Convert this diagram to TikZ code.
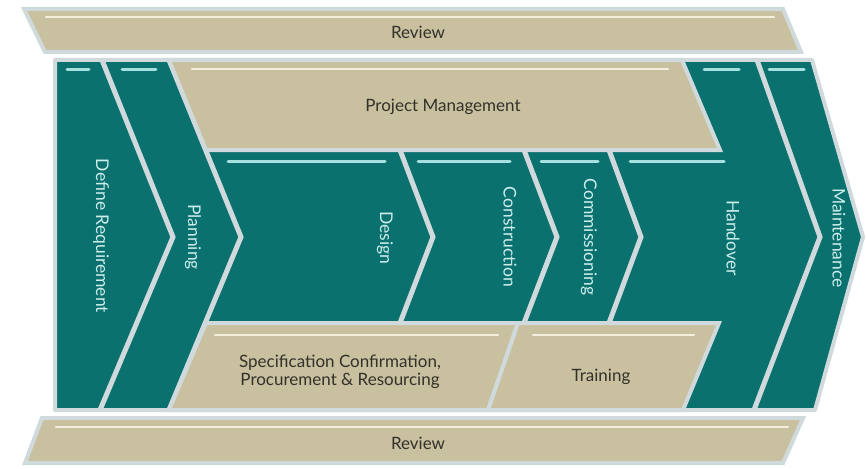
\documentclass[tikz,border=0pt]{standalone}
\usepackage{fontspec}
\setmainfont{Lato}
\definecolor{tealc}{HTML}{0A716F}
\definecolor{tanc}{HTML}{C8C09F}
\definecolor{gapc}{HTML}{D0DADD}
\definecolor{creamc}{HTML}{F4EFDD}
\definecolor{cyanc}{HTML}{A6E0E0}
\definecolor{darktxt}{HTML}{33312A}
\definecolor{lighttxt}{HTML}{CBEDEC}
\begin{document}
\begin{tikzpicture}[x=1pt,y=-1pt,
  gapline/.style={draw=gapc, line width=5pt, line join=miter},
  tanbox/.style={fill=tanc, draw=gapc, line width=4pt, line join=miter},
  creamline/.style={draw=creamc, line width=2.5pt, line cap=round},
  cyanline/.style={draw=cyanc, line width=3pt, line cap=round},
  tantext/.style={text=darktxt, font=\fontsize{17}{18}\selectfont, align=center, inner sep=0pt},
  colltext/.style={text=lighttxt, font=\fontsize{17.5}{19}\selectfont, rotate=-90, inner sep=0pt}]
\useasboundingbox (0,0) rectangle (866,468);
\fill[white] (0,0) rectangle (866,468);

% teal body
\path[fill=tealc, draw=gapc, line width=4pt, line join=round]
  (55,60) -- (812,60) -- (863,237) -- (815,410) -- (55,410) -- cycle;

% gap lines between columns
\draw[gapline] (102,60) -- (173,237) -- (100,410);
\draw[gapline] (169,60) -- (241,237) -- (169,410);
\draw[gapline] (400,150) -- (433,237) -- (400,323);
\draw[gapline] (524,150) -- (557,237) -- (524,323);
\draw[gapline] (609,150) -- (641,237) -- (609,323);
\draw[gapline] (757,60) -- (820,237) -- (754,410);

% tan boxes
\path[tanbox] (169,60) -- (682,60) -- (720,150) -- (206,150) -- cycle;
\path[tanbox] (206,323) -- (518,323) -- (488,410) -- (169,410) -- cycle;
\path[tanbox] (518,323) -- (719,323) -- (683,410) -- (488,410) -- cycle;
\path[tanbox] (24,9) -- (783,9) -- (801,52) -- (45,52) -- cycle;
\path[tanbox] (42,418) -- (803,418) -- (783,463) -- (25,463) -- cycle;

% cream highlights
\draw[creamline] (46,17) -- (774,17);
\draw[creamline] (192,69) -- (668,69);
\draw[creamline] (215,335) -- (498,335);
\draw[creamline] (533,335) -- (694,335);
\draw[creamline] (56,427) -- (788,427);

% cyan highlights
\draw[cyanline] (67,70) -- (89,70);
\draw[cyanline] (122,70) -- (156,70);
\draw[cyanline] (704,70) -- (739,70);
\draw[cyanline] (769,70) -- (804,70);
\draw[cyanline] (228,161) -- (385,161);
\draw[cyanline] (418,161) -- (510,161);
\draw[cyanline] (541,161) -- (598,161);
\draw[cyanline] (630,161) -- (724,161);

% texts
\node[tantext] (reviewtop) at (418,32) {Review};
\node[tantext] (pm) at (443,107) {Project Management};
\node[tantext] (spec) at (340,372) {Specification Confirmation,\\Procurement \& Resourcing};
\node[tantext] (training) at (601,377) {Training};
\node[tantext] (reviewbot) at (418,443) {Review};

\node[colltext] (defreq) at (101,236) {Define Requirement};
\node[colltext] (planning) at (193,237) {Planning};
\node[colltext] (design) at (385,238) {Design};
\node[colltext] (construction) at (510,237) {Construction};
\node[colltext] (commissioning) at (589,237) {Commissioning};
\node[colltext] (handover) at (733,238) {Handover};
\node[colltext] (maintenance) at (839,238) {Maintenance};
\end{tikzpicture}
\end{document}
